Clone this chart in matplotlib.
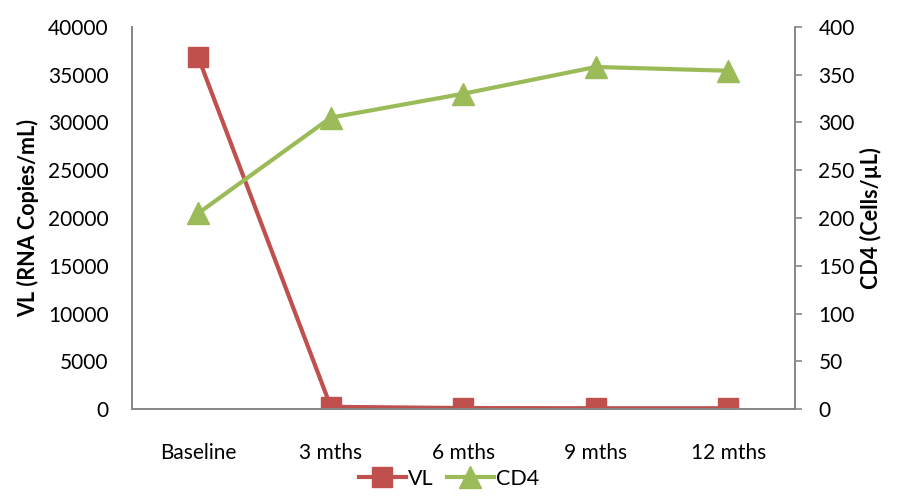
import matplotlib
matplotlib.use("Agg")
import matplotlib.pyplot as plt
import numpy as np

plt.rcParams["font.family"] = ["Lato", "DejaVu Sans"]

categories = ["Baseline", "3 mths", "6 mths", "9 mths", "12 mths"]
vl = [36800, 250, 120, 100, 100]
cd4 = [205, 305, 330, 358, 354]

red = "#C0504D"
green = "#9BBB59"
gray = "#868686"

fig = plt.figure(figsize=(8.98, 4.96), dpi=100)
ax = fig.add_axes([0.147, 0.175, 0.738, 0.771])
ax2 = ax.twinx()

x = np.arange(len(categories))
l1, = ax.plot(x, vl, color=red, lw=3, marker="s", ms=14, label="VL")
l2, = ax2.plot(x, cd4, color=green, lw=3, marker="^", ms=16, label="CD4")

ax.set_xlim(-0.5, 4.5)
ax.set_ylim(0, 40000)
ax2.set_ylim(0, 400)
ax.set_yticks(np.arange(0, 40001, 5000))
ax2.set_yticks(np.arange(0, 401, 50))
ax.set_xticks(x)
ax.set_xticklabels(categories)

for a in (ax, ax2):
    a.spines["top"].set_visible(False)
    for s in ("left", "right", "bottom"):
        a.spines[s].set_color(gray)
        a.spines[s].set_linewidth(1.2)
    a.tick_params(labelsize=15, colors="black")
ax.tick_params(axis="y", length=0, pad=17)
ax.tick_params(axis="x", length=0, pad=24)
ax2.tick_params(axis="y", length=5, color=gray, width=1.2, pad=12)

ax.set_ylabel("VL (RNA Copies/mL)", fontsize=15.5, fontweight="bold", labelpad=6)
ax2.set_ylabel("CD4 (Cells/µL)", fontsize=15.5, fontweight="bold", labelpad=4)

fig.legend([l1, l2], ["VL", "CD4"], loc="lower center", ncol=2, frameon=False,
           fontsize=15.5, bbox_to_anchor=(0.5, -0.025), handlelength=2.2,
           handletextpad=0.1, columnspacing=0.6)

fig.savefig("out.png", dpi=100)
